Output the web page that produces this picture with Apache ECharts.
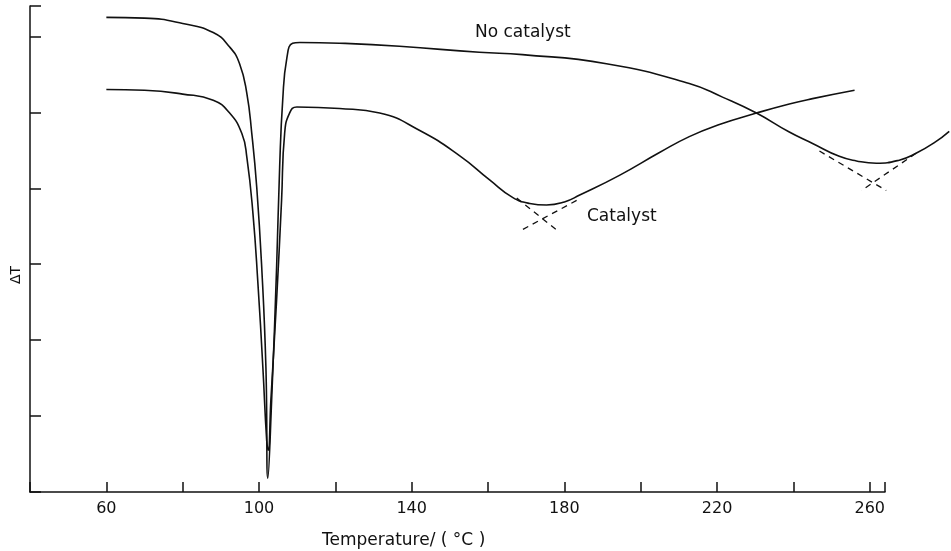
<!DOCTYPE html>
<html>
<head>
<meta charset="utf-8">
<script src="https://cdn.jsdelivr.net/npm/echarts@6/dist/echarts.min.js"></script>
<style>
  html, body { margin: 0; padding: 0; background: #fff; }
  #main { width: 951px; height: 551px; }
</style>
</head>
<body>
<div id="main"></div>
<script>
// 数据：温度 (°C) 与 ΔT（任意单位）
var noCatalyst = [
  [60, 6.25], [70, 6.24], [80, 6.17], [88, 6.05], [92.3, 5.86], [94.9, 5.64],
  [96.8, 5.25], [98.1, 4.72], [99.4, 4.01], [100.7, 2.96], [101.8, 1.64], [102.3, 0.18],
  [103.3, 1.21], [104.6, 2.96], [105.4, 4.28], [106.2, 5.16], [107.3, 5.72], [108.8, 5.91],
  [110.7, 5.92], [121.1, 5.91], [136.8, 5.87], [157.7, 5.79], [169.0, 5.76], [191.0, 5.64],
  [212.7, 5.38], [221.4, 5.20], [230.3, 4.99], [238.9, 4.74], [245.0, 4.59], [252.0, 4.42],
  [256.5, 4.36], [261.7, 4.33], [267.7, 4.37], [272.1, 4.46], [276.9, 4.60], [280.8, 4.75]
];
var catalyst = [
  [60, 5.30], [70, 5.29], [80, 5.24], [88, 5.16], [92.3, 4.99], [95.5, 4.72],
  [96.8, 4.41], [98.4, 3.67], [99.7, 2.75], [101.0, 1.64], [102.0, 0.68], [102.4, 0.55],
  [103.1, 1.21], [104.6, 2.53], [105.9, 3.84], [106.7, 4.72], [108.0, 4.99], [109.9, 5.07],
  [121.1, 5.05], [131.6, 4.99], [142.1, 4.76], [152.5, 4.43], [160.4, 4.11], [166.4, 3.88],
  [170.9, 3.80], [175.3, 3.78], [180.0, 3.82], [184.0, 3.91], [194.4, 4.17], [204.9, 4.47],
  [212.7, 4.68], [220.6, 4.84], [230.3, 4.99], [238.9, 5.11], [245.0, 5.18], [256.0, 5.29]
];
// 切线外推（虚线）
var tangentCatA = [[167.5, 3.87], [178.7, 3.42]];
var tangentCatB = [[183.2, 3.84], [168.8, 3.45]];
var tangentNoA = [[246.8, 4.49], [264.3, 3.97]];
var tangentNoB = [[272.1, 4.46], [257.8, 3.97]];

var xTicks = [60, 100, 140, 180, 220, 260];

var myChart = echarts.init(document.getElementById('main'));
var font = 'DejaVu Sans';
var ink = '#111';

function curve(name, data) {
  return {
    name: name, type: 'line', xAxisIndex: 0, yAxisIndex: 0,
    data: data, smooth: 0.5, symbol: 'none', silent: true,
    lineStyle: { color: ink, width: 1.6 }
  };
}
function dashed(data) {
  return {
    type: 'line', xAxisIndex: 0, yAxisIndex: 0,
    data: data, symbol: 'none', silent: true,
    lineStyle: { color: ink, width: 1.3, type: [6, 5] }
  };
}

var option = {
  animation: false,
  backgroundColor: '#fff',
  grid: [
    { left: 30, top: 6, width: 920, height: 486 },
    { left: 30, top: 6, width: 855, height: 486 }
  ],
  xAxis: [
    { type: 'value', gridIndex: 0, min: 40, max: 281, show: false },
    {
      type: 'value', gridIndex: 1, min: 40, max: 264, interval: 20,
      axisLine: { lineStyle: { color: ink, width: 1.5 } },
      axisTick: { inside: true, length: 10, lineStyle: { color: ink, width: 1.5 } },
      splitLine: { show: false },
      axisLabel: {
        color: ink, fontFamily: font, fontSize: 16, margin: 9,
        formatter: function (v) { return xTicks.indexOf(v) >= 0 ? String(v) : ''; }
      }
    }
  ],
  yAxis: [
    { type: 'value', gridIndex: 0, min: 0, max: 6.4, show: false },
    {
      type: 'value', gridIndex: 1, min: 0, max: 6.4, interval: 1,
      axisLine: { show: true, lineStyle: { color: ink, width: 1.5 } },
      axisTick: { show: true, inside: true, length: 11, lineStyle: { color: ink, width: 1.5 } },
      axisLabel: { show: false },
      splitLine: { show: false }
    }
  ],
  title: {
    text: 'Temperature/ ( °C )',
    left: 317, top: 527,
    textStyle: { color: ink, fontFamily: font, fontSize: 17, fontWeight: 'normal' }
  },
  graphic: [
    { type: 'text', left: 475, top: 24, style: { text: 'No catalyst', fill: ink, font: '17px ' + font } },
    { type: 'text', left: 587, top: 208, style: { text: 'Catalyst', fill: ink, font: '17px ' + font } },
    { type: 'text', x: 9, y: 284, rotation: Math.PI / 2, style: { text: 'ΔT', fill: ink, font: '14px ' + font } }
  ],
  series: [
    curve('No catalyst', noCatalyst),
    curve('Catalyst', catalyst),
    dashed(tangentCatA), dashed(tangentCatB),
    dashed(tangentNoA), dashed(tangentNoB)
  ]
};
myChart.setOption(option);
</script>
</body>
</html>
